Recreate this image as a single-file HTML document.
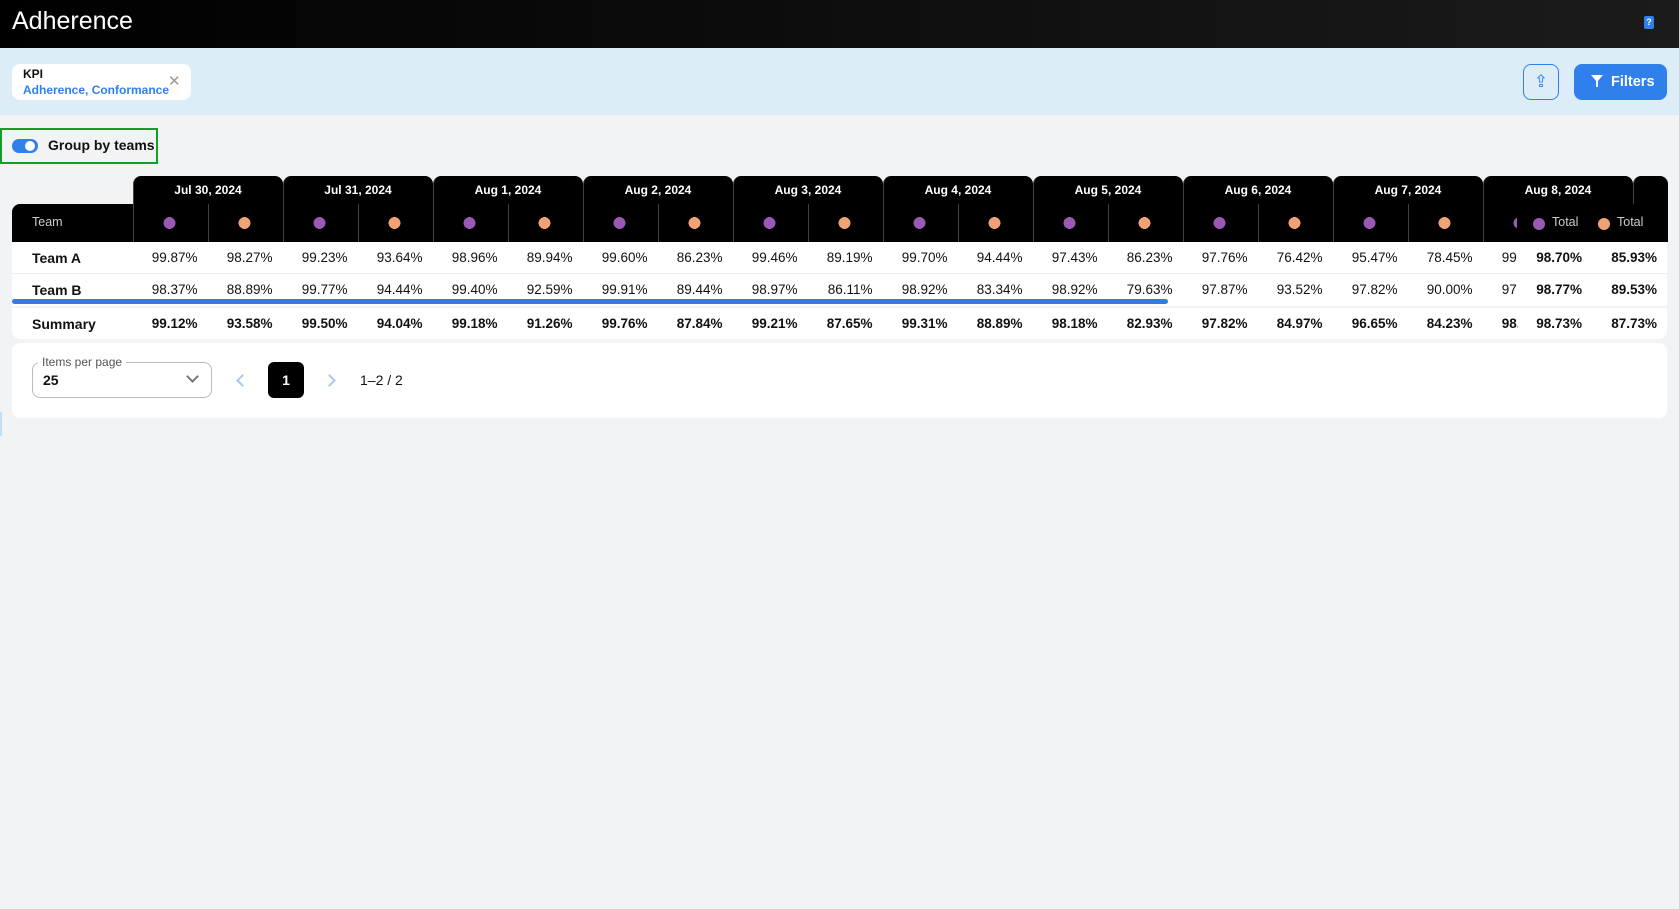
<!DOCTYPE html>
<html><head><meta charset="utf-8"><style>
*{box-sizing:border-box;margin:0;padding:0}
body{width:1679px;height:909px;background:#f2f3f5;font-family:"Liberation Sans",Arial,sans-serif;position:relative;overflow:hidden;color:#111}
.a{position:absolute}
.row{position:absolute;left:132.5px;display:flex;white-space:nowrap}
.row span{display:block;flex:0 0 75px;width:75px;text-align:right;padding-right:10px;font-size:13.5px}
.row>div{flex-shrink:0}
.b span{font-weight:bold}
.dot{display:inline-block;width:12px;height:12px;border-radius:50%}
.p{background:#9b59b6}.o{background:#f0a276}
.tab{width:150px;height:66px;background:#000;border-radius:8px 8px 0 0;border-left:1px solid #444;color:#fff;font-size:12px;font-weight:bold;text-align:center;padding-top:7px}
</style></head><body>
<div class="a" style="left:0;top:0;width:1679px;height:48px;background:linear-gradient(90deg,#000,#1b1b1b)"></div>
<div class="a" style="left:12px;top:7px;font-size:25px;color:#fff">Adherence</div>
<div class="a" style="left:1644px;top:16px;width:10px;height:13px;background:#2f80ed;border-radius:2px;color:#fff;font-size:9px;text-align:center;line-height:12px;font-weight:bold">?</div>
<div class="a" style="left:0;top:48px;width:1679px;height:67px;background:#ddedf7"></div>
<div class="a" style="left:12px;top:64px;width:179px;height:36px;background:#fff;border-radius:8px"></div>
<div class="a" style="left:23px;top:67px;font-size:12px;font-weight:bold">KPI</div>
<div class="a" style="left:23px;top:83px;font-size:12px;font-weight:bold;color:#2f80ed">Adherence, Conformance</div>
<div class="a" style="left:168px;top:72px;font-size:15px;color:#999">✕</div>
<div class="a" style="left:1523px;top:64px;width:36px;height:36px;border:1px solid #2f80ed;border-radius:8px;color:#2f80ed;text-align:center;font-size:17px;line-height:33px">⇪</div>
<div class="a" style="left:1574px;top:64px;width:93px;height:36px;background:#2f80ed;border-radius:8px;color:#fff;font-size:14.5px;font-weight:bold;line-height:36px;padding-left:37px">Filters</div>
<div class="a" style="left:1591px;top:75px;width:0;height:0;border-left:6px solid transparent;border-right:6px solid transparent;border-top:7px solid #fff"></div>
<div class="a" style="left:1596px;top:80px;width:2px;height:7px;background:#fff"></div>

<div class="a" style="left:0;top:128px;width:158px;height:36px;border:2px solid #1a9c2a"></div>
<div class="a" style="left:12px;top:139px;width:26px;height:14px;background:#2f80ed;border-radius:7px"></div>
<div class="a" style="left:25px;top:141px;width:10px;height:10px;background:#fff;border-radius:50%"></div>
<div class="a" style="left:48px;top:137px;font-size:14px;font-weight:bold">Group by teams</div>

<!-- header -->
<div class="a" style="left:12px;top:204px;width:1655px;height:38px;background:#000;border-radius:8px 0 0 0"></div>
<div class="a" style="left:32px;top:215px;font-size:12.5px;color:#ccc">Team</div>
<div class="row" style="top:176px">
<div class="tab">Jul 30, 2024</div>
<div class="tab">Jul 31, 2024</div>
<div class="tab">Aug 1, 2024</div>
<div class="tab">Aug 2, 2024</div>
<div class="tab">Aug 3, 2024</div>
<div class="tab">Aug 4, 2024</div>
<div class="tab">Aug 5, 2024</div>
<div class="tab">Aug 6, 2024</div>
<div class="tab">Aug 7, 2024</div>
<div class="tab">Aug 8, 2024</div>
<div class="tab" style="width:35px"></div>
</div>
<div class="row" style="top:204px;height:38px">
<div style="width:75px"></div><div style="width:75px;border-left:1px solid #444"></div>
<div style="width:75px"></div><div style="width:75px;border-left:1px solid #444"></div>
<div style="width:75px"></div><div style="width:75px;border-left:1px solid #444"></div>
<div style="width:75px"></div><div style="width:75px;border-left:1px solid #444"></div>
<div style="width:75px"></div><div style="width:75px;border-left:1px solid #444"></div>
<div style="width:75px"></div><div style="width:75px;border-left:1px solid #444"></div>
<div style="width:75px"></div><div style="width:75px;border-left:1px solid #444"></div>
<div style="width:75px"></div><div style="width:75px;border-left:1px solid #444"></div>
<div style="width:75px"></div><div style="width:75px;border-left:1px solid #444"></div>
</div>
<div class="a" style="left:132px;top:217px;height:12px;width:1385px;background:
radial-gradient(circle 6px at 37.5px 6px,#9b59b6 98%,transparent) 0 0/150px 12px repeat-x,
radial-gradient(circle 6px at 112.5px 6px,#f0a276 98%,transparent) 0 0/150px 12px repeat-x"></div>
<div class="a" style="left:1517px;top:204px;width:150px;height:38px;background:#000"></div>
<div class="a" style="left:1533px;top:217px"><span class="dot p"></span></div>
<div class="a" style="left:1552px;top:215px;font-size:12.5px;color:#ccc">Total</div>
<div class="a" style="left:1598px;top:217px"><span class="dot o"></span></div>
<div class="a" style="left:1617px;top:215px;font-size:12.5px;color:#ccc">Total</div>

<!-- body -->
<div class="a" style="left:12px;top:242px;width:1655px;height:64px;background:#fff"></div>
<div class="a" style="left:12px;top:273px;width:1655px;height:1px;background:#eee"></div>
<div class="a" style="left:12px;top:308px;width:1655px;height:31px;background:#fff;border-radius:0 0 8px 8px"></div>
<div class="a" style="left:32px;top:250px;font-size:14px;font-weight:bold">Team A</div>
<div class="a" style="left:32px;top:282px;font-size:14px;font-weight:bold">Team B</div>
<div class="a" style="left:32px;top:316px;font-size:14px;font-weight:bold">Summary</div>
<div class="row" style="top:250px;width:1385px;overflow:hidden"><span>99.87%</span><span>98.27%</span><span>99.23%</span><span>93.64%</span><span>98.96%</span><span>89.94%</span><span>99.60%</span><span>86.23%</span><span>99.46%</span><span>89.19%</span><span>99.70%</span><span>94.44%</span><span>97.43%</span><span>86.23%</span><span>97.76%</span><span>76.42%</span><span>95.47%</span><span>78.45%</span><span>99.87%</span></div>
<div class="row" style="top:282px;width:1385px;overflow:hidden"><span>98.37%</span><span>88.89%</span><span>99.77%</span><span>94.44%</span><span>99.40%</span><span>92.59%</span><span>99.91%</span><span>89.44%</span><span>98.97%</span><span>86.11%</span><span>98.92%</span><span>83.34%</span><span>98.92%</span><span>79.63%</span><span>97.87%</span><span>93.52%</span><span>97.82%</span><span>90.00%</span><span>97.87%</span></div>
<div class="row b" style="top:316px;width:1385px;overflow:hidden"><span>99.12%</span><span>93.58%</span><span>99.50%</span><span>94.04%</span><span>99.18%</span><span>91.26%</span><span>99.76%</span><span>87.84%</span><span>99.21%</span><span>87.65%</span><span>99.31%</span><span>88.89%</span><span>98.18%</span><span>82.93%</span><span>97.82%</span><span>84.97%</span><span>96.65%</span><span>84.23%</span><span>98.73%</span></div>
<div class="row b" style="left:1517px;top:250px"><span>98.70%</span><span>85.93%</span></div>
<div class="row b" style="left:1517px;top:282px"><span>98.77%</span><span>89.53%</span></div>
<div class="row b" style="left:1517px;top:316px"><span>98.73%</span><span>87.73%</span></div>
<div class="a" style="left:12px;top:299px;width:1156px;height:5px;background:#2f7de1;border-radius:3px"></div>

<!-- pagination -->
<div class="a" style="left:12px;top:343px;width:1655px;height:75px;background:#fff;border-radius:8px"></div>
<div class="a" style="left:32px;top:362px;width:180px;height:36px;border:1px solid #bbb;border-radius:8px"></div>
<div class="a" style="left:38px;top:355px;padding:0 4px;background:#fff;font-size:12px;color:#555;line-height:14px">Items per page</div>
<div class="a" style="left:43px;top:372px;font-size:14px;font-weight:bold">25</div>
<div class="a" style="left:188px;top:372px;width:9px;height:9px;border-right:2px solid #777;border-bottom:2px solid #777;transform:rotate(45deg)"></div>
<div class="a" style="left:238px;top:376px;width:9px;height:9px;border-left:2px solid #a8c8f0;border-bottom:2px solid #a8c8f0;transform:rotate(45deg)"></div>
<div class="a" style="left:268px;top:362px;width:36px;height:36px;background:#000;border-radius:6px;color:#fff;font-size:14px;font-weight:bold;text-align:center;line-height:36px">1</div>
<div class="a" style="left:325px;top:376px;width:9px;height:9px;border-right:2px solid #a8c8f0;border-top:2px solid #a8c8f0;transform:rotate(45deg)"></div>
<div class="a" style="left:360px;top:372px;font-size:14px">1–2 / 2</div>
<div class="a" style="left:0;top:412px;width:2px;height:24px;background:#bfe0f5"></div>
</body></html>
